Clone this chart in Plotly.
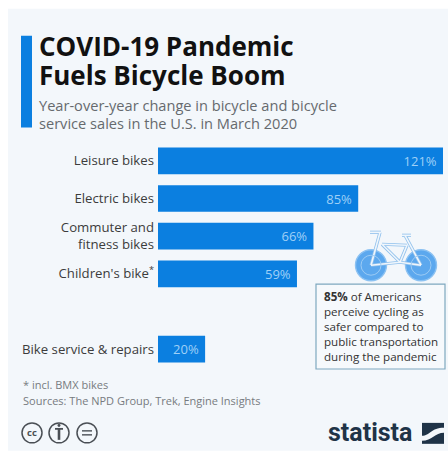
import plotly.graph_objects as go

category_slots = ["Leisure bikes", "Electric bikes", "Commuter and<br>fitness bikes", "Children's bike<sup>*</sup>", " ", "Bike service & repairs"]
categories = ["Leisure bikes", "Electric bikes", "Commuter and<br>fitness bikes", "Children's bike<sup>*</sup>", "Bike service & repairs"]
values = [121, 85, 66, 59, 20]
labels = ["121%", "85%", "66%", "59%", "20%"]

W, H = 448, 451
L, R, T, B = 158, 443, 141.5, 368
BLUE = "#0b7fe0"
TXT = "#3c3c3c"
GREY = "#666a6e"
FONT = "Open Sans"


def px(x):
    return (x - L) / (R - L)


def py(y):
    return (B - y) / (B - T)


def rect(x0, y0, x1, y1, fill, line=None, lw=0):
    return dict(type="rect", xref="paper", yref="paper", x0=px(x0), x1=px(x1), y0=py(y0), y1=py(y1),
                fillcolor=fill, line=dict(color=line or fill, width=lw), layer="below")


def circ(cx, cy, r, fill, line, lw=1.2):
    return dict(type="circle", xref="paper", yref="paper", x0=px(cx - r), x1=px(cx + r), y0=py(cy - r), y1=py(cy + r),
                fillcolor=fill, line=dict(color=line, width=lw), layer="above")


def seg(a, b, color="#f0f6fc", lw=1.6):
    return dict(type="line", xref="paper", yref="paper", x0=px(a[0]), y0=py(a[1]),
                x1=px(b[0]), y1=py(b[1]), line=dict(color=color, width=lw), layer="above")


def text(x, y, s, size, color=GREY, anchor="left", weight=None, family=FONT):
    return dict(xref="paper", yref="paper", x=px(x), y=py(y), text=s, showarrow=False, xanchor=anchor, yanchor="middle",
                align=anchor, font=dict(family=family, size=size, color=color, weight=weight))


fig = go.Figure(go.Bar(
    x=values, y=categories, orientation="h", marker=dict(color=BLUE, line=dict(width=0)), width=0.71,
    text=labels, texttemplate="%{text}\u00a0", textposition="inside", insidetextanchor="end", textangle=0,
    textfont=dict(family=FONT, size=13, color="#9fd0f7"), cliponaxis=False, hoverinfo="skip",
))

shapes = [
    rect(8, 8, 448, 451, "#f3f7fb"),
    rect(21, 35, 32, 127, BLUE),
    rect(316, 284, 445, 369, "#f6f9fc", "#7fa8bf", 1.2),
]
# bicycle icon
for cx, cy in [(371, 265), (421, 265)]:
    shapes.append(circ(cx, cy, 15.5, "#5ca8ee", "#8cc2f2", 1.4))
tubes = [((371, 265), (380, 232)), ((370, 232), (381, 232)), ((382, 244), (407, 245)), ((371, 265), (400, 262)),
         ((382, 244), (400, 262)), ((407, 245), (400, 262)), ((405, 235), (421, 265)), ((402, 235), (411, 235)),
         ((400, 262), (421, 265))]
for a, b in tubes:
    shapes.append(seg(a, b, "#8fc0ec", 3.2))
for a, b in tubes:
    shapes.append(seg(a, b))
for cx, cy in [(371, 265), (421, 265)]:
    shapes.append(circ(cx, cy, 10, "rgba(0,0,0,0)", "#9ccbf4", 1))
# licence icons
for cx in [32, 59, 87]:
    shapes.append(circ(cx, 433, 10, "rgba(0,0,0,0)", "#4a4f55", 1.5))
shapes += [seg((55, 429), (63, 429), "#4a4f55", 1.8), seg((59, 429), (59, 440), "#4a4f55", 2.6),
           circ(59, 425.5, 1.3, "#4a4f55", "#4a4f55", 0.5),
           seg((82, 431), (92, 431), "#4a4f55", 1.4), seg((82, 435), (92, 435), "#4a4f55", 1.4)]
# statista logo
shapes.append(rect(422, 423, 444, 444, "#1f3347"))
shapes.append(dict(type="path", xref="paper", yref="paper", layer="above", line=dict(width=0), fillcolor="#f3f7fb",
                   path=f"M {px(422)},{py(436)} C {px(430)},{py(436)} {px(431)},{py(428)} {px(444)},{py(428)} "
                        f"L {px(444)},{py(433)} C {px(435)},{py(433)} {px(432)},{py(441)} {px(422)},{py(441)} Z"))

annotations = [
    text(37, 45, "COVID-19 Pandemic", 26, "#111111", weight=700),
    text(37, 74, "Fuels Bicycle Boom", 26, "#111111", weight=700),
    text(36.5, 104, "Year-over-year change in bicycle and bicycle", 14.6, GREY),
    text(36.5, 122, "service sales in the U.S. in March 2020", 14.6, GREY),
    text(322, 296, "<b>85%</b> of Americans", 11.6, "#333333"),
    text(322, 311, "perceive cycling as", 11.6, "#333333"),
    text(322, 326, "safer compared to", 11.6, "#333333"),
    text(322, 341, "public transportation", 11.6, "#333333"),
    text(322, 356, "during the pandemic", 11.6, "#333333"),
    text(21, 385, "* incl. BMX bikes", 11, "#777b80"),
    text(21, 401, "Sources: The NPD Group, Trek, Engine Insights", 11, "#777b80"),
    text(32, 433, "cc", 9.5, "#4a4f55", "center", 700),
    text(414, 433, "statista", 25, "#1f3347", "right", 700, "Roboto"),
]

fig.update_layout(
    width=W, height=H, autosize=False, showlegend=False, paper_bgcolor="white", plot_bgcolor="rgba(0,0,0,0)",
    margin=dict(l=L, r=W - R, t=T, b=H - B, pad=0), shapes=shapes, annotations=annotations,
    xaxis=dict(range=[0, 121], visible=False, fixedrange=True),
    yaxis=dict(type="category", categoryorder="array", categoryarray=category_slots, range=[5.5, -0.5],
               tickmode="array", tickvals=categories, ticktext=categories, showgrid=False, showline=False,
               zeroline=False, ticks="", ticklabelstandoff=3, fixedrange=True,
               tickfont=dict(family=FONT, size=13.2, color=TXT)),
)
fig.write_html("out.html", config=dict(displayModeBar=False),
               post_script="document.body.style.margin='0';document.body.style.overflow='hidden';")
